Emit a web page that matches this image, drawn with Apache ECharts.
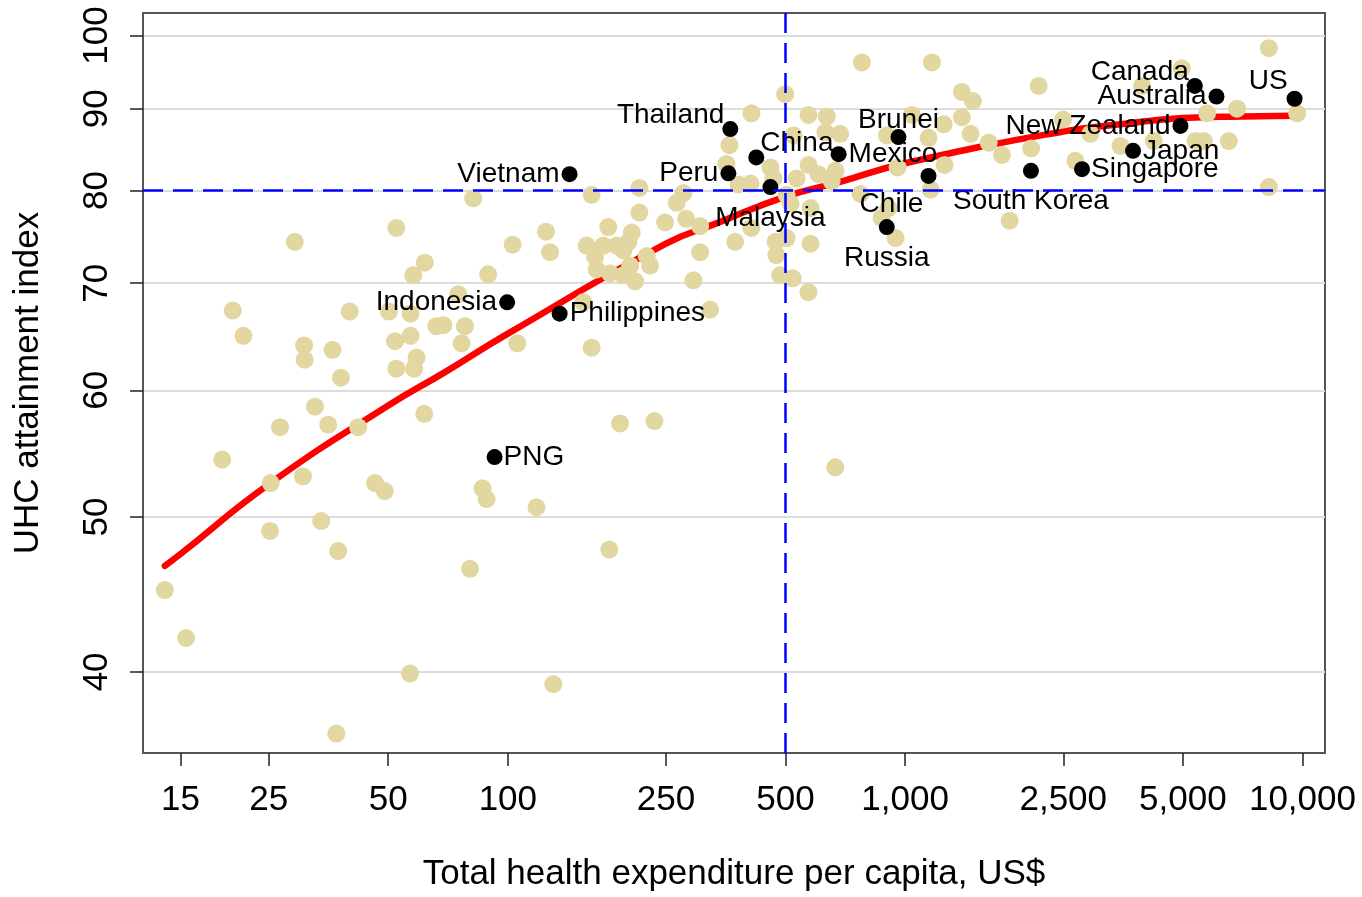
<!DOCTYPE html>
<html><head><meta charset="utf-8">
<script src="https://cdn.jsdelivr.net/npm/echarts@6/dist/echarts.min.js"></script>
<style>html,body{margin:0;padding:0;background:#fff}#c{width:1362px;height:897px}</style>
</head><body><div id="c"></div>
<script>
// ---- data ----
const xTicks = [15, 25, 50, 100, 250, 500, 1000, 2500, 5000, 10000];
const yTicks = [40, 50, 60, 70, 80, 90, 100];
const xTitle = 'Total health expenditure per capita, US$';
const yTitle = 'UHC attainment index';
const refX = 500;
const refY = 80;

// other countries [THE per capita US$, UHC index]
const otherPoints = [
[13.7,45.0],[15.5,42.0],[19.1,54.3],[20.3,67.3],[21.6,64.9],[25.2,49.0],[25.3,52.5],[26.7,56.9],[29.1,74.3],[30.7,64.0],
[30.8,62.7],[30.5,53.0],[32.7,58.6],[33.9,49.7],[35.3,57.1],[36.2,63.6],[37.4,47.6],[38.0,61.1],[40.0,67.2],[42.0,56.9],
[46.3,52.5],[49.0,51.9],[37.0,36.6],[52.4,75.8],[52.0,64.4],[52.4,61.9],[56.7,39.9],[57.8,70.8],[56.9,64.9],[58.9,62.9],
[58.1,61.9],[61.8,72.1],[61.6,58.0],[66.1,65.8],[50.2,67.2],[56.9,67.0],[68.8,65.9],[75.0,68.9],[78.0,65.8],[76.5,64.2],
[80.3,46.4],[81.8,79.1],[86.4,52.1],[88.4,51.3],[89.2,70.9],[102.8,74.0],[105.6,64.2],[118.1,50.7],[124.7,75.4],[127.7,73.2],
[130.1,39.3],[154.9,68.1],[162.5,63.8],[162.5,79.5],[180.0,47.7],[191.6,57.2],[233.8,57.4],[666.8,53.7],[157.9,73.9],[173.9,73.9],
[187.8,73.9],[201.1,74.3],[205.0,75.3],[195.3,73.4],[223.6,72.8],[165.8,72.7],[179.0,75.9],[167.3,71.4],[180.8,71.0],[195.3,70.8],
[203.1,71.8],[209.1,70.2],[228.0,71.8],[293.1,70.3],[322.9,67.4],[214.3,80.3],[214.3,77.5],[266.1,78.6],[276.6,79.7],[248.8,76.4],
[281.0,76.8],[304.7,76.0],[304.7,73.2],[373.3,74.3],[361.2,85.4],[354.9,83.1],[380.6,80.7],[410.3,89.4],[498.9,91.9],[571,89.2],
[635,89.0],[778,96.2],[1168,96.2],[1389,92.2],[1481,91.0],[2168,93.0],[1040,89.2],[1250,88.0],[1389,88.9],[686,86.8],
[630,87.0],[524,86.6],[900,86.6],[1145,86.3],[1461,86.8],[1623,85.7],[1752,84.2],[1257,83.0],[957,82.7],[1159,80.1],
[458,82.7],[466,81.4],[408,80.8],[571,83.0],[533,81.4],[605,81.9],[668,82.3],[653,81.1],[503,79.5],[515,78.5],
[772,79.6],[578,78.0],[908,78.0],[872,76.9],[946,74.7],[410,75.8],[472,74.3],[503,74.7],[578,74.1],[474,72.9],
[485,70.8],[521,70.5],[571,69.1],[1832,76.6],[8232,98.2],[4968,95.4],[3947,93.0],[6846,90.0],[5754,89.4],[9697,89.4],
[6525,85.9],[5645,85.9],[5380,85.9],[4224,85.9],[3483,85.3],[2682,83.5],[2496,88.6],[8232,80.4],[2075,85.0],[2926,86.8]
];

// highlighted countries
const hlNames = ['Vietnam','Thailand','Peru','Indonesia','Philippines','PNG','China','Malaysia','Mexico','Brunei',
                 'Chile','Russia','South Korea','Singapore','Japan','New Zealand','Canada','Australia','US'];
const hlX = [143, 363, 359, 99.6, 135, 92.6, 422, 458, 680, 962, 1145, 899, 2073, 2787, 3746, 4931, 5358, 6076, 9552];
const hlY = [81.9, 87.4, 82.0, 68.1, 67.0, 54.5, 83.9, 80.4, 84.3, 86.4, 81.7, 75.9, 82.3, 82.5, 84.7, 87.8, 93.0, 91.6, 91.3];

// fitted curve
const curveX = [13.7, 15, 25, 50, 68.8, 100, 250, 335, 500, 686, 1000, 2500, 3488, 5000, 7073, 9513];
const curveY = [46.6, 47.4, 52.4, 58.7, 61.5, 65.1, 74.1, 76.3, 79.3, 81.0, 83.2, 87.1, 88.0, 88.8, 89.0, 89.1];

// ---- label placement (style, not data) ----
const labelPlacement = {
  'Vietnam': {position: 'left', distance: 2},
  'Thailand': {position: 'left', distance: -2, offset: [0, -14]},
  'Peru': {position: 'left', distance: 2},
  'Indonesia': {position: 'left', distance: 2},
  'Philippines': {position: 'right', distance: 2},
  'PNG': {position: 'right', distance: 1},
  'China': {position: 'right', distance: -4, offset: [0, -14]},
  'Malaysia': {position: 'bottom', distance: 9},
  'Mexico': {position: 'right', distance: 2},
  'Brunei': {position: 'top', distance: -5},
  'Chile': {position: 'bottom', distance: 6, offset: [-37, 0]},
  'Russia': {position: 'bottom', distance: 9},
  'South Korea': {position: 'bottom', distance: 8},
  'Singapore': {position: 'right', distance: 1},
  'Japan': {position: 'right', distance: 2},
  'New Zealand': {position: 'left', distance: 2},
  'Canada': {position: 'left', distance: -2, offset: [0, -14]},
  'Australia': {position: 'left', distance: 2},
  'US': {position: 'left', distance: -1, offset: [0, -17]}
};

const L = Math.log10;
const FONT = "'Liberation Sans', Arial, Helvetica, sans-serif";

const otherData = otherPoints.map(p => [L(p[0]), L(p[1])]);
const hlData = hlNames.map((n, i) => ({
  name: n,
  value: [L(hlX[i]), L(hlY[i])],
  label: Object.assign({show: true, formatter: n}, labelPlacement[n] || {})
}));
const curveData = curveX.map((x, i) => [L(x), L(curveY[i])]);

const chart = echarts.init(document.getElementById('c'), null, {renderer: 'canvas'});
chart.setOption({
  animation: false,
  backgroundColor: '#ffffff',
  textStyle: {fontFamily: FONT},
  grid: {left: 143, right: 37, top: 13, bottom: 141, show: true, borderColor: '#555', borderWidth: 2, containLabel: false},
  xAxis: {
    type: 'value',
    min: L(12.07), max: L(11395),
    axisLine: {show: true, onZero: false, lineStyle: {color: '#555', width: 2}},
    axisTick: {show: true, inside: false, length: 13, customValues: xTicks.map(L), lineStyle: {color: '#222', width: 1.5}},
    axisLabel: {
      customValues: xTicks.map(L), fontSize: 35, color: '#000', margin: 30, fontFamily: FONT,
      formatter: v => Math.round(Math.pow(10, v)).toLocaleString('en-US')
    },
    splitLine: {show: false},
    name: xTitle, nameLocation: 'middle', nameGap: 104,
    nameTextStyle: {fontSize: 35, color: '#000', fontFamily: FONT}
  },
  yAxis: {
    type: 'value',
    min: L(35.59), max: L(103.3),
    axisLine: {show: true, onZero: false, lineStyle: {color: '#555', width: 2}},
    axisTick: {show: true, inside: false, length: 13, customValues: yTicks.map(L), lineStyle: {color: '#222', width: 1.5}},
    axisLabel: {
      customValues: yTicks.map(L), fontSize: 35, color: '#000', margin: 28, rotate: 90, fontFamily: FONT,
      formatter: v => String(Math.round(Math.pow(10, v)))
    },
    splitLine: {show: true, lineStyle: {color: '#dcdcdc', width: 2}},
    name: yTitle, nameLocation: 'middle', nameGap: 97, nameRotate: 90,
    nameTextStyle: {fontSize: 35, color: '#000', fontFamily: FONT}
  },
  series: [
    {
      type: 'line', data: [], z: 1, silent: true,
      markLine: {
        silent: true, symbol: ['none', 'none'], label: {show: false}, precision: 8,
        lineStyle: {color: '#0000ff', width: 2.5, type: [20, 10]},
        data: [{xAxis: L(refX)}, {yAxis: L(refY)}]
      }
    },
    {
      type: 'line', data: curveData, z: 2, smooth: true, showSymbol: false, symbol: 'none',
      lineStyle: {color: '#ff0000', width: 6.5, cap: 'round', join: 'round'}
    },
    {
      type: 'scatter', data: otherData, z: 3, symbol: 'circle', symbolSize: 18,
      itemStyle: {color: '#e2d6a1', opacity: 1}
    },
    {
      type: 'scatter', data: hlData, z: 4, symbol: 'circle', symbolSize: 16,
      itemStyle: {color: '#000000', opacity: 1},
      label: {show: true, fontSize: 28, color: '#000', fontFamily: FONT}
    }
  ]
});
</script>
</body></html>
